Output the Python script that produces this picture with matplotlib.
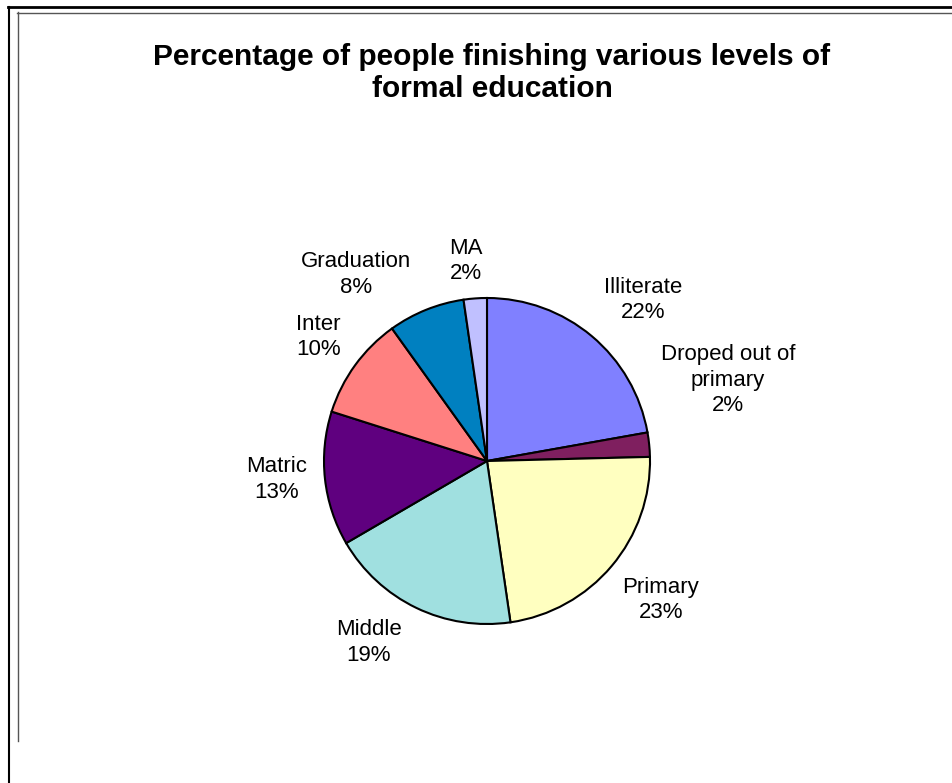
import numpy as np
import matplotlib
matplotlib.use("Agg")
import matplotlib.pyplot as plt
from matplotlib.lines import Line2D

plt.rcParams["font.family"] = ["Liberation Sans", "DejaVu Sans"]

# ===========================================
# data

categories = ["Illiterate", "Droped out of\nprimary", "Primary", "Middle",
              "Matric", "Inter", "Graduation", "MA"]
shares = [22.2, 2.4, 23.1, 18.9, 13.3, 10.2, 7.6, 2.3]
colors = ["#8080FF", "#7F1F5F", "#FFFFC0", "#A0E0E0",
          "#5F007F", "#FF8080", "#0080C0", "#C0C0FF"]

title = "Percentage of people finishing various levels of\nformal education"

# label placement (distance in radii, angle nudge in degrees)
label_dist = [1.375, 1.56, 1.366, 1.33, 1.294, 1.286, 1.398, 1.234]
label_nudge = [-4.1, 12.8, 1.5, -7.3, -1.2, -0.3, 13.1, 1.9]

# ===========================================

W, H = 952, 783
fig = plt.figure(figsize=(W / 100, H / 100), dpi=100)
fig.patch.set_facecolor("white")

# pie centre and radius in pixels
cx, cy, r = 487, 461, 163
ax = fig.add_axes([(cx - r) / W, (H - cy - r) / H, 2 * r / W, 2 * r / H])

wedges, _ = ax.pie(shares, colors=colors, startangle=90, counterclock=False,
                   radius=1, wedgeprops=dict(edgecolor="black", linewidth=1.5))
ax.set_xlim(-1, 1)
ax.set_ylim(-1, 1)
ax.axis("off")

total = sum(shares)
for w, name, val, d, nudge in zip(wedges, categories, shares, label_dist, label_nudge):
  mid = np.deg2rad((w.theta1 + w.theta2) / 2 + nudge)
  ax.text(d * np.cos(mid), d * np.sin(mid), f"{name}\n{val / total * 100:.0f}%",
          ha="center", va="center", fontsize=16, linespacing=1.3, clip_on=False)

fig.text(492 / W, 1 - 73 / H, title, ha="center", va="center",
         fontsize=21.5, fontweight="bold", linespacing=1.22)

# double frame like the source screenshot
def fig_line(xs, ys, color, lw):
  fig.add_artist(Line2D([x / W for x in xs], [1 - y / H for y in ys],
                        color=color, linewidth=lw, transform=fig.transFigure))

fig_line([8, W], [7, 7], "black", 2.0)
fig_line([9, 9], [7, H], "black", 1.5)
fig_line([17, W], [12.5, 12.5], "#555555", 1.0)
fig_line([17.5, 17.5], [12, 741], "#555555", 1.0)

fig.savefig("out.png", dpi=100)
